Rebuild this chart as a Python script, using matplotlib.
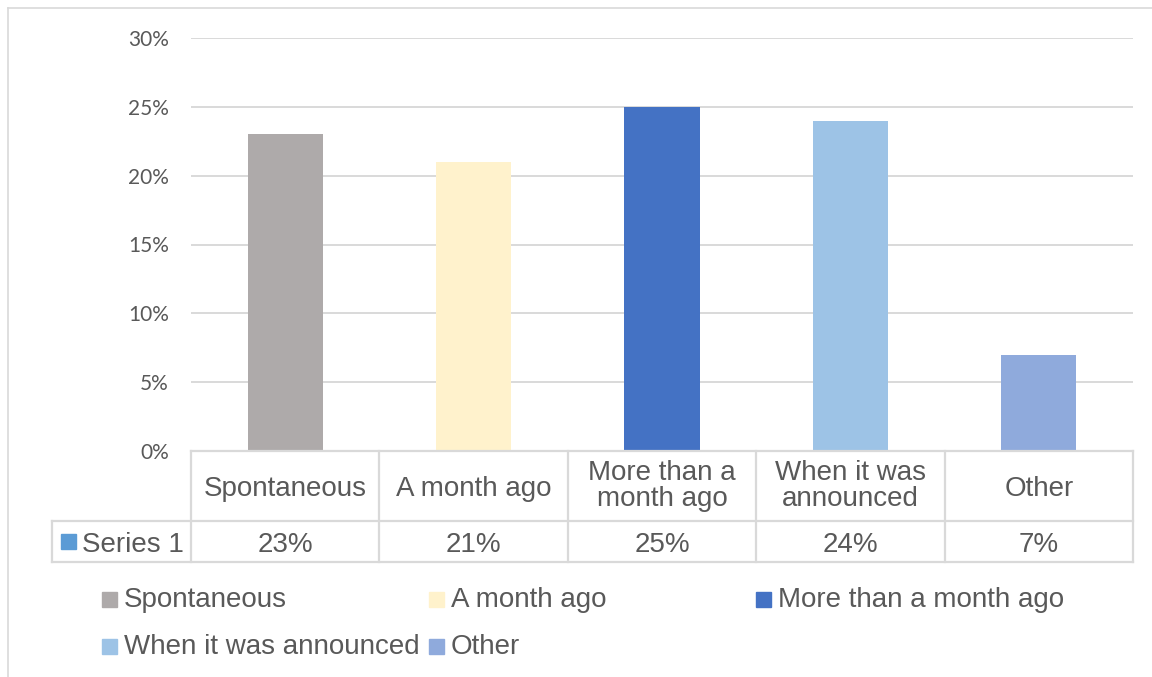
import matplotlib
matplotlib.use('Agg')
import matplotlib.pyplot as plt
from matplotlib.patches import Rectangle
from matplotlib.lines import Line2D
import numpy as np

# survey answers: when was the decision made
categories = ['Spontaneous', 'A month ago', 'More than a month ago', 'When it was announced', 'Other']
header_labels = ['Spontaneous', 'A month ago', 'More than a\nmonth ago', 'When it was\nannounced', 'Other']
values = [23, 21, 25, 24, 7]  # percent
colors = ['#AEAAAA', '#FFF2CC', '#4472C4', '#9DC3E6', '#8FAADC']
series_name = 'Series 1'
series_color = '#5B9BD5'
yticks = [0, 5, 10, 15, 20, 25, 30]

textcol = '#595959'
linecol = '#D9D9D9'
font = 'Liberation Sans'
fs = 20

W, H = 1152, 677
fig = plt.figure(figsize=(W/100., H/100.), dpi=100)

def box(l, t, r, b):
    'pixel box (top-left origin) to figure fraction rect'
    return [l/W, 1-b/H, (r-l)/W, (b-t)/H]

def px(x, y):
    return (x/W, 1-y/H)

# chart area
ax = fig.add_axes(box(191, 38, 1133, 451))
x = np.arange(len(categories))
ax.bar(x, np.array(values)/100., width=0.4, color=colors, zorder=3)
ax.set_xlim(-0.5, len(categories)-0.5)
ax.set_ylim(0, 0.30)
ax.set_yticks(np.array(yticks)/100.)
ax.set_yticklabels(['%d%%' % v for v in yticks], family='Lato', fontsize=15, color=textcol)
ax.yaxis.grid(True, color=linecol, lw=1.4, zorder=0)
ax.set_xticks([])
ax.tick_params(axis='y', length=0, pad=16)
for s in ax.spines.values():
    s.set_visible(False)

# data table under the bars, x in category units, y in pixels
left = -0.5 - (191-52)/((1133-191)/5.)
tab = fig.add_axes(box(52, 451, 1133, 562))
tab.set_xlim(left, len(categories)-0.5)
tab.set_ylim(562, 451)
tab.axis('off')
lk = dict(color=linecol, lw=1.6, clip_on=False)
tab.plot([-0.5, len(categories)-0.5], [451, 451], **lk)
tab.plot([left, len(categories)-0.5], [521, 521], **lk)
tab.plot([left, len(categories)-0.5], [562, 562], **lk)
for b in np.arange(len(categories)+1)-0.5:
    tab.plot([b, b], [451, 562], **lk)
tab.plot([left, left], [521, 562], **lk)
tk = dict(ha='center', va='baseline', family=font, fontsize=fs, color=textcol, clip_on=False)
for i in range(len(categories)):
    lines = header_labels[i].split('\n')
    n = len(lines)
    for k, line in enumerate(lines):
        tab.text(i, 496 - (n-1)*15.5 + k*25.5, line, **tk)
    tab.text(i, 551.5, '%d%%' % values[i], **tk)

# row key for the table
fig.patches.append(Rectangle(px(61, 549), 15/W, 15/H, transform=fig.transFigure,
                             color=series_color))
fig.text(*px(82, 551.5), series_name, ha='left', va='baseline', family=font,
         fontsize=fs, color=textcol)

# legend, three equal columns
for i, (c, col) in enumerate(zip(categories, colors)):
    x0 = 102 + (i % 3)*327
    yb = 607 + (i // 3)*47
    fig.patches.append(Rectangle(px(x0, yb), 15/W, 15/H, transform=fig.transFigure,
                                 color=col))
    fig.text(*px(x0+22, yb), c, ha='left', va='baseline', family=font,
             fontsize=fs, color=textcol)

# chart frame (top and left edges)
fig.lines.append(Line2D([8/W, 1], [1-8/H, 1-8/H], transform=fig.transFigure,
                        color=linecol, lw=1.2))
fig.lines.append(Line2D([8/W, 8/W], [1-8/H, 0], transform=fig.transFigure,
                        color=linecol, lw=1.2))

fig.savefig('out.png', dpi=100)
